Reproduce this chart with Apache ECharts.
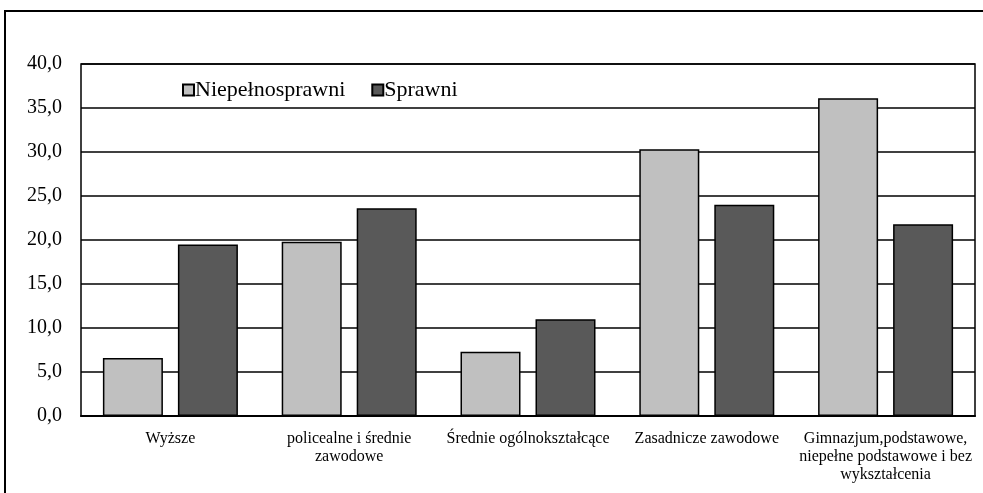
<!DOCTYPE html>
<html style="height: 100%">
<head>
    <meta charset="UTF-8">
    <title>Wykształcenie</title>
    <script src="https://cdn.jsdelivr.net/npm/echarts@6/dist/echarts.min.js"></script>
</head>
<body style="height: 100%; margin: 0; background: #fff">
    <div id="main" style="width: 983px; height: 493px;"></div>
    <script>
        // dane
        var categories = [
            'Wyższe',
            'policealne i średnie\nzawodowe',
            'Średnie ogólnokształcące',
            'Zasadnicze zawodowe',
            'Gimnazjum,podstawowe,\nniepełne podstawowe i bez\nwykształcenia'
        ];
        var niepelnosprawni = [6.6, 19.8, 7.3, 30.3, 36.1];
        var sprawni = [19.5, 23.6, 11.0, 24.0, 21.8];
        var seriesNames = ['Niepełnosprawni', 'Sprawni'];

        var font = '"Liberation Serif", "Times New Roman", serif';
        var myChart = echarts.init(document.getElementById('main'));

        var option = {
            animation: false,
            textStyle: { fontFamily: font, color: '#000' },
            graphic: [{
                type: 'rect',
                shape: { x: 5, y: 11, width: 1000, height: 520 },
                style: { fill: 'none', stroke: '#000', lineWidth: 2 }
            }],
            legend: {
                left: 177,
                top: 74,
                itemWidth: 11,
                itemHeight: 11,
                itemGap: 26,
                icon: 'rect',
                textStyle: { fontFamily: font, fontSize: 22, color: '#000', padding: [0, 0, 0, -4] },
                data: seriesNames
            },
            grid: {
                left: 81,
                right: 8,
                top: 64,
                bottom: 77,
                show: true,
                borderColor: '#000',
                borderWidth: 1.5
            },
            xAxis: {
                type: 'category',
                data: categories,
                axisLine: { lineStyle: { color: '#000', width: 2 } },
                axisTick: { show: false },
                axisLabel: {
                    interval: 0,
                    margin: 14,
                    fontFamily: font,
                    fontSize: 16,
                    lineHeight: 18,
                    color: '#000'
                }
            },
            yAxis: {
                type: 'value',
                min: 0,
                max: 40,
                interval: 5,
                axisLine: { show: false },
                axisTick: { show: false },
                axisLabel: {
                    margin: 19,
                    fontFamily: font,
                    fontSize: 20,
                    color: '#000',
                    formatter: function (v) { return v.toFixed(1).replace('.', ','); }
                },
                splitLine: { lineStyle: { color: '#000', width: 1.5 } }
            },
            series: [
                {
                    name: seriesNames[0],
                    type: 'bar',
                    data: niepelnosprawni,
                    barWidth: 60,
                    barGap: '25%',
                    itemStyle: { color: '#c0c0c0', borderColor: '#000', borderWidth: 1.5 }
                },
                {
                    name: seriesNames[1],
                    type: 'bar',
                    data: sprawni,
                    barWidth: 60,
                    itemStyle: { color: '#595959', borderColor: '#000', borderWidth: 1.5 }
                }
            ]
        };

        myChart.setOption(option);
    </script>
</body>
</html>
